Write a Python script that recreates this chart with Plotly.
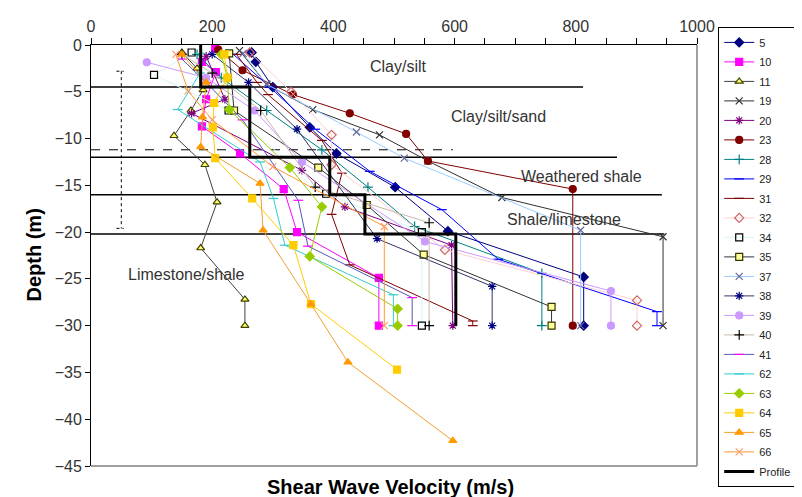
import plotly.graph_objects as go

# ---------------- data ----------------
SERIES_NAMES = ["5", "10", "11", "19", "20", "23", "28", "29", "31", "32", "34",
                "35", "37", "38", "39", "40", "41", "62", "63", "64", "65", "66"]

V5 = [265, 272, 300, 361, 405, 502, 589, 813, 813]
D5 = [-0.8, -1.8, -4.5, -8.8, -11.6, -15.2, -19.9, -24.8, -30]
V10 = [205, 183, 206, 190, 183, 246, 318, 340, 475, 475]
D10 = [-0.3, -1.8, -2.9, -5.8, -8.7, -11.6, -15.4, -20.0, -24.9, -30]
V11 = [150, 175, 185, 165, 137, 188, 208, 181, 254, 254]
D11 = [-0.8, -2.5, -4.8, -7.0, -9.7, -12.8, -16.8, -21.7, -27.2, -30]
V19 = [245, 290, 366, 476, 556, 678, 944, 944]
D19 = [-0.6, -4.2, -6.9, -9.6, -12.4, -16.3, -20.5, -30]
V20 = [190, 221, 166, 348, 419, 595, 597]
D20 = [-1.2, -5.8, -7.3, -13.4, -17.3, -21.4, -30]
V23 = [210, 250, 333, 427, 520, 556, 795, 795]
D23 = [-0.5, -2.7, -5.3, -7.3, -9.5, -12.4, -15.4, -30]
V28 = [175, 215, 290, 381, 457, 534, 744, 744]
D28 = [-1.0, -3.5, -7.0, -11.2, -15.2, -19.4, -24.4, -30]
V29 = [235, 295, 370, 460, 579, 672, 934, 934]
D29 = [-1.0, -4.5, -9.0, -13.5, -17.6, -22.9, -28.5, -30]
V31 = [240, 274, 292, 381, 414, 397, 427, 630, 630]
D31 = [-1.0, -4.0, -5.3, -10.2, -13.7, -18.1, -23.5, -29.5, -30]
V32 = [262, 330, 397, 397, 584, 901, 901]
D32 = [-0.8, -5.0, -9.6, -12.8, -21.9, -27.3, -30]
V34 = [166, 104, 227, 388, 546, 546]
D34 = [-0.8, -3.2, -7.0, -15.9, -20.0, -30]
V35 = [228, 236, 375, 455, 549, 760, 760]
D35 = [-0.9, -7.0, -13.1, -17.1, -22.4, -28.0, -30]
V37 = [251, 290, 438, 517, 808, 808]
D37 = [-0.9, -4.2, -9.3, -12.1, -19.8, -30]
V38 = [200, 260, 340, 472, 662, 662]
D38 = [-1.0, -4.0, -9.0, -20.7, -25.8, -30]
V39 = [92, 190, 270, 348, 551, 858, 858]
D39 = [-1.85, -3.5, -7.0, -12.5, -21.0, -26.3, -30]
V40 = [150, 200, 280, 370, 558, 558]
D40 = [-1.0, -3.0, -7.0, -15.2, -19.0, -30]
V41 = [150, 190, 250, 342, 358, 530, 530]
D41 = [-1.5, -4.0, -8.0, -16.6, -21.5, -27.0, -30]
V62 = [180, 180, 143, 279, 301, 320, 499, 499]
D62 = [-0.9, -3.0, -6.9, -12.5, -16.4, -21.4, -26.7, -30]
V63 = [215, 225, 228, 328, 381, 361, 506, 506]
D63 = [-1.0, -3.5, -6.9, -13.1, -17.3, -22.6, -28.2, -30]
V64 = [220, 225, 203, 201, 205, 266, 334, 363, 505]
D64 = [-1.0, -3.5, -6.2, -8.8, -12.1, -16.4, -21.4, -27.7, -34.7]
V65 = [150, 190, 184, 181, 279, 284, 363, 424, 597]
D65 = [-1.0, -4.0, -7.7, -10.9, -14.8, -19.8, -27.7, -33.9, -42.3]
V66 = [140, 160, 200, 300, 484, 484]
D66 = [-1.0, -4.9, -8.0, -13.0, -19.4, -30]

PROFILE_V = [181, 181, 262, 262, 394, 394, 452, 452, 602, 602]
PROFILE_D = [0, -4.5, -4.5, -12, -12, -16, -16, -20.2, -20.2, -30]

LAYER_DEPTHS = [-4.5, -12.0, -16.0, -20.2]
LAYER_ENDS = [812, 868, 942, 946]
DASHED_DEPTH = -11.2
DASHED_END = 597
RANGE_V = 50
RANGE_TOP = -2.8
RANGE_BOTTOM = -19.6

LAYER_LABELS = ["Clay/silt", "Clay/silt/sand", "Weathered shale", "Shale/limestone", "Limestone/shale"]
LABEL_V = [507, 672, 810, 780, 158]
LABEL_D = [-2.3, -7.6, -14.1, -18.6, -24.5]

VALUES = {
    "5": (V5, D5), "10": (V10, D10), "11": (V11, D11), "19": (V19, D19), "20": (V20, D20),
    "23": (V23, D23), "28": (V28, D28), "29": (V29, D29), "31": (V31, D31), "32": (V32, D32),
    "34": (V34, D34), "35": (V35, D35), "37": (V37, D37), "38": (V38, D38), "39": (V39, D39),
    "40": (V40, D40), "41": (V41, D41), "62": (V62, D62), "63": (V63, D63), "64": (V64, D64),
    "65": (V65, D65), "66": (V66, D66),
}

# ---------------- styles ----------------
# name: (line colour, marker symbol, marker fill, marker edge)
STYLE = {
    "5": ("#000080", "diamond", "#000080", "#000080"),
    "10": ("#FF00FF", "square", "#FF00FF", "#FF00FF"),
    "11": ("#404040", "triangle-up", "#FFFF66", "#404000"),
    "19": ("#303030", "x-thin-open", "#303030", "#303030"),
    "20": ("#800080", "asterisk-open", "#800080", "#800080"),
    "23": ("#800000", "circle", "#800000", "#800000"),
    "28": ("#008080", "cross-thin-open", "#008080", "#008080"),
    "29": ("#0000FF", "line-ew-open", "#0000FF", "#0000FF"),
    "31": ("#800000", "line-ew-open", "#800000", "#800000"),
    "32": ("#FFD0D0", "diamond-open", "#CC6666", "#CC6666"),
    "34": ("#D8F4F4", "square-open", "#000000", "#000000"),
    "35": ("#333333", "square", "#FFFF99", "#333300"),
    "37": ("#99CCFF", "x-thin-open", "#666699", "#666699"),
    "38": ("#333366", "asterisk-open", "#000080", "#000080"),
    "39": ("#CC99FF", "circle", "#CC99FF", "#CC99FF"),
    "40": ("#C8B8A8", "cross-thin-open", "#000000", "#000000"),
    "41": ("#5555BB", "line-ew-open", "#FF00FF", "#FF00FF"),
    "62": ("#33CCCC", "line-ew-open", "#33CCCC", "#33CCCC"),
    "63": ("#99CC00", "diamond", "#99CC00", "#99CC00"),
    "64": ("#FFCC00", "square", "#FFCC00", "#FFCC00"),
    "65": ("#F0A030", "triangle-up", "#FF9900", "#FF9900"),
    "66": ("#FF9933", "x-thin-open", "#FF9966", "#FF9966"),
}

FONT = "Liberation Sans, Arial, sans-serif"

fig = go.Figure()

for name in SERIES_NAMES:
    v, d = VALUES[name]
    lc, sym, fill, edge = STYLE[name]
    fig.add_trace(go.Scatter(
        x=v, y=d, name=name, legendgroup=name, mode="lines+markers",
        line=dict(color=lc, width=1),
        marker=dict(symbol=sym, size=7, color=fill, line=dict(color=edge, width=1.2)),
    ))

fig.add_trace(go.Scatter(
    x=PROFILE_V, y=PROFILE_D, name="Profile", legendgroup="Profile", mode="lines",
    line=dict(color="black", width=3),
))

# layer boundaries
for dep, end in zip(LAYER_DEPTHS, LAYER_ENDS):
    fig.add_shape(type="line", x0=0, x1=end, y0=dep, y1=dep,
                  line=dict(color="black", width=1.5), layer="below")
fig.add_shape(type="line", x0=0, x1=DASHED_END, y0=DASHED_DEPTH, y1=DASHED_DEPTH,
              line=dict(color="black", width=1, dash="dash"), layer="below")
fig.add_shape(type="line", x0=RANGE_V, x1=RANGE_V, y0=RANGE_TOP, y1=RANGE_BOTTOM,
              line=dict(color="black", width=1, dash="dot"), layer="below")
for yy in (RANGE_TOP, RANGE_BOTTOM):
    fig.add_shape(type="line", x0=RANGE_V - 8, x1=RANGE_V + 4, y0=yy, y1=yy,
                  line=dict(color="black", width=1, dash="dot"), layer="below")

for txt, lv, ld in zip(LAYER_LABELS, LABEL_V, LABEL_D):
    fig.add_annotation(x=lv, y=ld, text=txt, showarrow=False,
                       font=dict(family=FONT, size=16, color="#333333"))

# plot-area border (right / bottom)
fig.add_shape(type="line", xref="paper", yref="paper", x0=1, x1=1, y0=0, y1=1,
              line=dict(color="#A0A0A0", width=2))
fig.add_shape(type="line", xref="paper", yref="paper", x0=0, x1=1, y0=0, y1=0,
              line=dict(color="#A0A0A0", width=2))

fig.add_annotation(xref="paper", yref="paper", x=0.495, y=-0.05,
                   xanchor="center", yanchor="middle",
                   text="<b>Shear Wave Velocity (m/s)</b>", showarrow=False,
                   font=dict(family=FONT, size=20, color="black"))
fig.add_annotation(xref="paper", yref="paper", x=-0.0957, y=0.5, textangle=-90,
                   xanchor="center", yanchor="middle",
                   text="<b>Depth (m)</b>", showarrow=False,
                   font=dict(family=FONT, size=20, color="black"))

# the page body adds an 8 px offset, so the figure is 8 px smaller than the window
fig.update_layout(
    width=794, height=489,
    margin=dict(l=83, r=105, t=37, b=31, autoexpand=False),
    paper_bgcolor="white", plot_bgcolor="white",
    font=dict(family=FONT, color="#222222"),
    showlegend=True,
    legend=dict(x=1.035, y=1.043, xanchor="left", yanchor="top",
                bordercolor="black", borderwidth=1, bgcolor="white",
                maxheight=480, tracegroupgap=0.5,
                font=dict(family=FONT, size=11, color="#222222")),
    xaxis=dict(side="top", range=[0, 1000], dtick=200, ticks="outside", ticklen=6,
               tickcolor="black", showline=True, linecolor="black", linewidth=1,
               showgrid=False, zeroline=False, tickfont=dict(size=16, color="#333333"),
               minor=dict(dtick=50, ticks="outside", ticklen=6, tickcolor="black")),
    yaxis=dict(range=[-45, 0], dtick=5, ticks="outside", ticklen=5, tickcolor="black",
               showline=True, linecolor="black", linewidth=1, showgrid=False,
               zeroline=False, tickfont=dict(size=16, color="#333333")),
)

fig.write_html("out.html")
